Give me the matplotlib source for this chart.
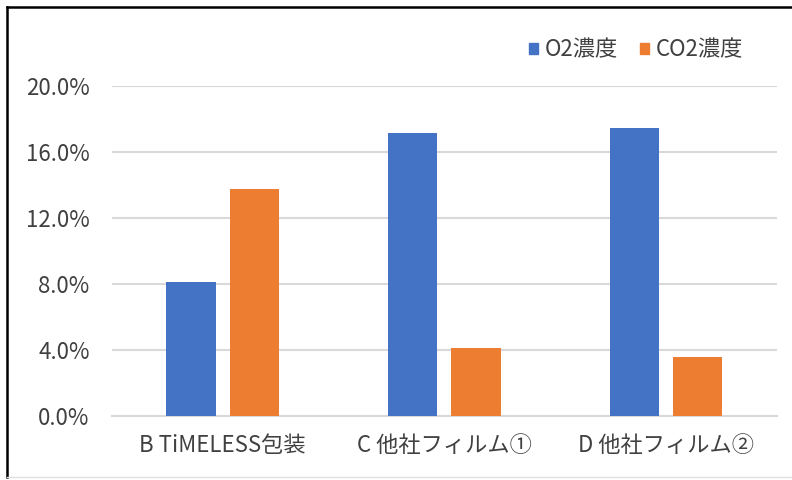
import matplotlib
matplotlib.use('Agg')
import matplotlib.pyplot as plt
import numpy as np
from matplotlib.lines import Line2D
from matplotlib.patches import Patch
from matplotlib.ticker import FuncFormatter

plt.rcParams['font.family'] = ['Noto Sans CJK JP', 'DejaVu Sans']

categories = ['B TiMELESS包装', 'C 他社フィルム①', 'D 他社フィルム②']
series_names = ['O2濃度', 'CO2濃度']
o2_values = [0.0810, 0.1716, 0.1743]
co2_values = [0.1378, 0.0415, 0.0357]
colors = ['#4472C4', '#ED7D31']
text_color = '#404040'
grid_color = '#d9d9d9'

fig = plt.figure(figsize=(7.92, 4.8), dpi=100)
ax = fig.add_axes([0.1412, 0.1333, 0.8396, 0.6875])

x = np.arange(len(categories))
width = 0.223
offset = 0.143
ax.bar(x - offset, o2_values, width, color=colors[0], zorder=3)
ax.bar(x + offset, co2_values, width, color=colors[1], zorder=3)

ax.set_xlim(-0.5, len(categories) - 0.5)
ax.set_ylim(0, 0.20)
ax.set_yticks(np.arange(0, 0.2001, 0.04))
ax.yaxis.set_major_formatter(FuncFormatter(lambda v, p: '%.1f%%' % (v * 100)))
ax.set_xticks(x)
ax.set_xticklabels(categories)

ax.grid(axis='y', color=grid_color, linewidth=1.5, zorder=0)
for s in ['top', 'right', 'left']:
    ax.spines[s].set_visible(False)
ax.spines['bottom'].set_color(grid_color)
ax.spines['bottom'].set_linewidth(1.5)
ax.tick_params(axis='both', length=0, labelsize=16, colors=text_color)
ax.tick_params(axis='y', pad=16)
ax.tick_params(axis='x', pad=13)

handles = [Patch(color=c) for c in colors]
fig.legend(handles, series_names, loc='center', bbox_to_anchor=(0.803, 0.896),
           ncol=2, frameon=False, fontsize=16, handlelength=0.4, handleheight=0.4,
           handletextpad=0.3, columnspacing=1.0, labelcolor=text_color)

# frame around the chart
fig.add_artist(Line2D([7 / 792, 7 / 792], [3 / 480, 1 - 7 / 480], color='black', linewidth=1.8,
                      transform=fig.transFigure))
fig.add_artist(Line2D([7 / 792, 1], [1 - 7 / 480, 1 - 7 / 480], color='black', linewidth=1.8,
                      transform=fig.transFigure))
fig.add_artist(Line2D([7 / 792, 1], [3 / 480, 3 / 480], color='#e0e0e0', linewidth=1,
                      transform=fig.transFigure))

plt.savefig('out.png', dpi=100)
